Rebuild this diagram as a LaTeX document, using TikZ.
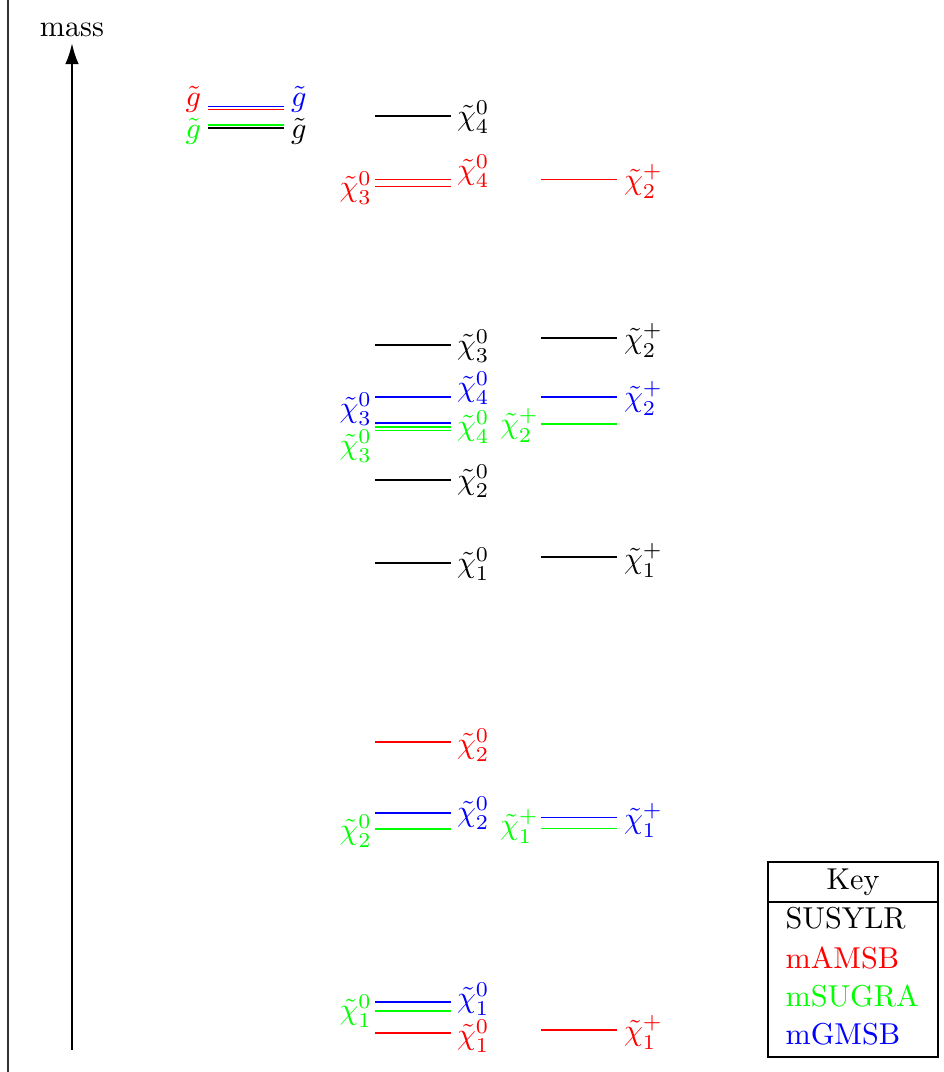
\documentclass[tikz,border=0pt]{standalone}
\usetikzlibrary{arrows.meta}
\definecolor{cR}{RGB}{255,0,0}
\definecolor{cG}{RGB}{0,255,0}
\definecolor{cB}{RGB}{0,0,255}
\tikzset{
  lvl/.style={line width=0.45pt},
  lab/.style={inner sep=0pt, outer sep=0pt},
  rlab/.style={lab, anchor=west},
  llab/.style={lab, anchor=east},
  keytext/.style={inner sep=0pt, anchor=west},
}
% \mylevel{name}{colour}{x1}{x2}{y}
\newcommand{\mylevel}[5]{%
  \coordinate (#1-a) at (#3,#5);
  \coordinate (#1-b) at (#4,#5);
  \draw[lvl,#2] (#1-a) -- (#1-b);}
\begin{document}
\begin{tikzpicture}[x=0.3311pt,y=-0.3311pt]
\useasboundingbox (0,0) rectangle (943,1072);
% left frame line
\coordinate (ft) at (8,0);
\coordinate (fb) at (8,1072);
\draw[line width=0.4pt, black!80] (ft) -- (fb);
% mass axis
\node[inner sep=0pt, anchor=base] (mass) at (72,37) {mass};
\coordinate (ax0) at (72,1050);
\coordinate (ax1) at (72,43);
\draw[line width=0.8pt, -{Latex[length=7pt,width=4.5pt]}] (ax0) -- (ax1);

% gluinos
\mylevel{gB}{cB}{208}{284}{106.5}
\mylevel{gR}{cR}{208}{284}{109.7}
\mylevel{gG}{cG}{208}{284}{125}
\mylevel{gK}{black}{208}{284}{128}
\node[llab, text=cR] (lgR) at (201,99) {$\tilde g$};
\node[rlab, text=cB] (lgB) at (291,99) {$\tilde g$};
\node[llab, text=cG] (lgG) at (201,131) {$\tilde g$};
\node[rlab, text=black] (lgK) at (291,131) {$\tilde g$};

% neutralinos column
\mylevel{nK4}{black}{375}{451}{116}
\node[rlab] (lnK4) at (457,117) {$\tilde\chi^0_4$};
\mylevel{nR4}{cR}{375}{451}{179.3}
\mylevel{nR3}{cR}{375}{451}{186.7}
\node[rlab, text=cR] (lnR4) at (457,171) {$\tilde\chi^0_4$};
\node[llab, text=cR] (lnR3) at (372,188) {$\tilde\chi^0_3$};
\mylevel{nK3}{black}{375}{451}{345}
\node[rlab] (lnK3) at (457,346) {$\tilde\chi^0_3$};
\mylevel{nB4}{cB}{375}{451}{397}
\node[rlab, text=cB] (lnB4) at (457,388) {$\tilde\chi^0_4$};
\mylevel{nB3}{cB}{375}{451}{422.5}
\draw[lvl,cB] ([yshift=-0.3pt]nB3-a) -- ([yshift=-0.3pt]nB3-b);
\node[llab, text=cB] (lnB3) at (372,409) {$\tilde\chi^0_3$};
\mylevel{nG4}{cG}{375}{451}{427}
\mylevel{nG3}{cG}{375}{451}{430.3}
\node[rlab, text=cG] (lnG4) at (457,427) {$\tilde\chi^0_4$};
\node[llab, text=cG] (lnG3) at (372,446) {$\tilde\chi^0_3$};
\mylevel{nK2}{black}{375}{451}{480}
\node[rlab] (lnK2) at (457,481) {$\tilde\chi^0_2$};
\mylevel{nK1}{black}{375}{451}{563}
\node[rlab] (lnK1) at (457,564) {$\tilde\chi^0_1$};
\mylevel{nR2}{cR}{375}{451}{742}
\node[rlab, text=cR] (lnR2) at (457,745) {$\tilde\chi^0_2$};
\mylevel{nB2}{cB}{375}{451}{813}
\mylevel{nG2}{cG}{375}{451}{829}
\node[rlab, text=cB] (lnB2) at (457,813) {$\tilde\chi^0_2$};
\node[llab, text=cG] (lnG2) at (372,831) {$\tilde\chi^0_2$};
\mylevel{nB1}{cB}{375}{451}{1002}
\mylevel{nG1}{cG}{375}{451}{1011}
\mylevel{nR1}{cR}{375}{451}{1033}
\node[rlab, text=cB] (lnB1) at (457,999) {$\tilde\chi^0_1$};
\node[llab, text=cG] (lnG1) at (372,1011) {$\tilde\chi^0_1$};
\node[rlab, text=cR] (lnR1) at (457,1036) {$\tilde\chi^0_1$};

% charginos column
\mylevel{cR2}{cR}{541}{617}{179.3}
\node[rlab, text=cR] (lcR2) at (624,181) {$\tilde\chi^+_2$};
\mylevel{cK2}{black}{541}{617}{338}
\node[rlab] (lcK2) at (624,340) {$\tilde\chi^+_2$};
\mylevel{cB2}{cB}{541}{617}{397}
\node[rlab, text=cB] (lcB2) at (624,398) {$\tilde\chi^+_2$};
\mylevel{cG2}{cG}{541}{617}{424}
\node[llab, text=cG] (lcG2) at (539,425) {$\tilde\chi^+_2$};
\mylevel{cK1}{black}{541}{617}{557}
\node[rlab] (lcK1) at (624,560) {$\tilde\chi^+_1$};
\mylevel{cB1}{cB}{541}{617}{817.5}
\mylevel{cG1}{cG}{541}{617}{828.3}
\node[rlab, text=cB] (lcB1) at (624,820) {$\tilde\chi^+_1$};
\node[llab, text=cG] (lcG1) at (539,826) {$\tilde\chi^+_1$};
\mylevel{cR1}{cR}{541}{617}{1030}
\node[rlab, text=cR] (lcR1) at (624,1032) {$\tilde\chi^+_1$};

% key
\coordinate (k-nw) at (768,862);
\coordinate (k-se) at (938,1057);
\draw[line width=0.5pt] (k-nw) rectangle (k-se);
\coordinate (ks-a) at (768,902);
\coordinate (ks-b) at (938,902);
\draw[line width=0.6pt] (ks-a) -- (ks-b);
\node[inner sep=0pt] (khead) at (853,882) {Key};
\node[keytext] (k1) at (785,918) {SUSYLR};
\node[keytext, text=cR] (k2) at (785,958) {mAMSB};
\node[keytext, text=cG] (k3) at (785,996) {mSUGRA};
\node[keytext, text=cB] (k4) at (785,1034) {mGMSB};
\end{tikzpicture}
\end{document}
